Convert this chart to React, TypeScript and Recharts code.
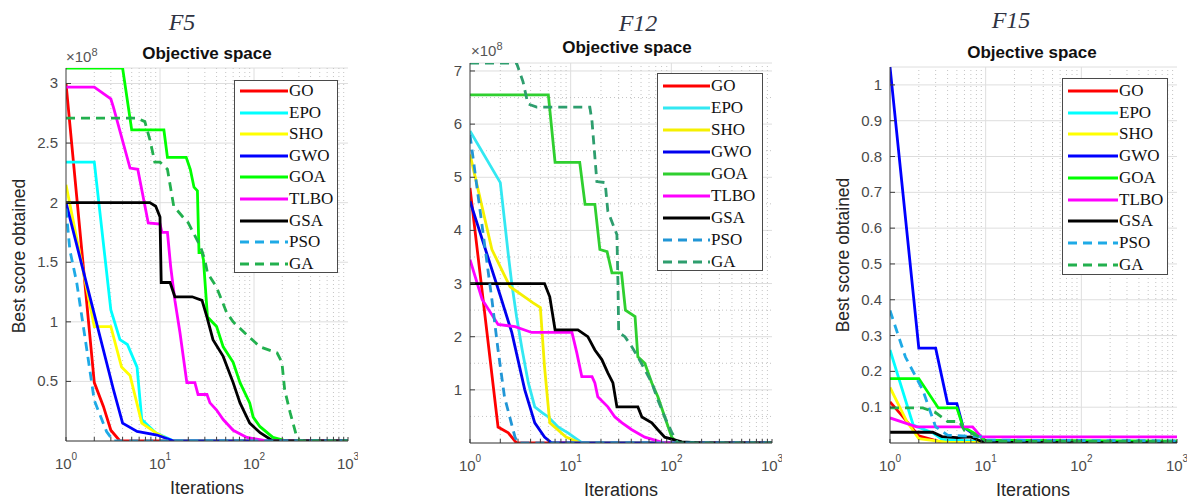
import { LineChart, Line, XAxis, YAxis, CartesianGrid, ReferenceLine } from "recharts";

type Pt = [number, number];

const algos = ["GO", "EPO", "SHO", "GWO", "GOA", "TLBO", "GSA", "PSO", "GA"];

// F5 (score x 1e8)
const f5GO: Pt[] = [[1, 3.0], [2, 0.49], [2.5, 0.29], [3, 0.09], [3.75, 0], [1000, 0]];
const f5EPO: Pt[] = [[1, 2.34], [2, 2.34], [3, 1.1], [3.75, 0.85], [4.5, 0.81], [5.7, 0.62], [6.4, 0.18], [7, 0.15], [9, 0.07], [14, 0], [1000, 0]];
const f5SHO: Pt[] = [[1, 2.15], [2, 0.96], [3, 0.96], [3.9, 0.62], [4.8, 0.55], [6.4, 0.15], [9, 0.07], [13, 0], [1000, 0]];
const f5GWO: Pt[] = [[1, 2.0], [3.2, 0.43], [4, 0.15], [5.7, 0.08], [9.3, 0.05], [14, 0], [1000, 0]];
const f5GOA: Pt[] = [[1, 3.13], [4, 3.13], [5, 2.61], [11, 2.61], [12, 2.38], [19, 2.38], [21, 2.28], [23, 2.13], [25, 2.1], [26, 1.58], [28, 1.58], [29, 1.52], [32, 1.04], [40, 0.96], [47, 0.79], [60, 0.66], [71, 0.49], [90, 0.32], [98, 0.2], [116, 0.12], [159, 0.03], [224, 0], [1000, 0]];
const f5TLBO: Pt[] = [[1, 2.97], [2, 2.97], [3, 2.87], [3.2, 2.8], [4.8, 2.29], [5.8, 2.28], [7.5, 1.83], [10, 1.82], [10.5, 1.75], [12, 1.75], [13, 1.46], [14.4, 1.18], [16.3, 0.91], [19.3, 0.49], [23.5, 0.49], [25.4, 0.39], [31.6, 0.39], [34, 0.32], [40, 0.26], [47, 0.18], [60, 0.09], [84, 0.03], [137, 0], [1000, 0]];
const f5GSA: Pt[] = [[1, 2.0], [7.8, 2.0], [9, 1.97], [10, 1.88], [10.3, 1.33], [12.8, 1.33], [14.4, 1.21], [22, 1.21], [28, 1.18], [31.6, 1.04], [36.6, 0.85], [47, 0.71], [60, 0.49], [71, 0.32], [90, 0.15], [116, 0.07], [159, 0], [1000, 0]];
const f5PSO: Pt[] = [[1, 1.95], [1.1, 1.6], [1.3, 1.33], [1.67, 0.76], [2, 0.34], [2.7, 0.08], [3.2, 0], [1000, 0]];
const f5GA: Pt[] = [[1, 2.71], [5.7, 2.71], [6.9, 2.68], [7.8, 2.53], [8.8, 2.34], [10, 2.34], [12, 2.28], [14, 1.97], [17.5, 1.88], [20, 1.83], [27, 1.63], [30, 1.52], [32, 1.41], [40, 1.29], [51, 1.08], [60, 1.0], [84, 0.89], [116, 0.79], [176, 0.74], [198, 0.66], [212, 0.43], [242, 0.24], [286, 0.03], [309, 0], [1000, 0]];

// F12 (score x 1e8)
const f12GO: Pt[] = [[1, 4.8], [1.9, 0.3], [2.4, 0.19], [2.9, 0], [1000, 0]];
const f12EPO: Pt[] = [[1, 5.87], [2, 4.9], [2.4, 3.55], [2.6, 3.0], [2.9, 2.38], [3.3, 1.75], [3.8, 1.13], [4.4, 0.68], [5.2, 0.57], [6, 0.49], [7.5, 0.3], [9.4, 0.19], [13, 0], [1000, 0]];
const f12SHO: Pt[] = [[1, 5.43], [1.65, 3.64], [2.5, 2.94], [4.2, 2.64], [5, 2.55], [5.5, 1.43], [6.2, 0.38], [9, 0.11], [12.5, 0], [1000, 0]];
const f12GWO: Pt[] = [[1, 4.55], [2, 2.77], [2.6, 2.08], [3.5, 1.0], [4.4, 0.38], [5.5, 0.11], [6.5, 0], [1000, 0]];
const f12GOA: Pt[] = [[1, 6.55], [6, 6.55], [7, 5.28], [12.3, 5.28], [13.9, 4.49], [17.4, 4.49], [19.5, 3.64], [23, 3.6], [25.7, 3.2], [32, 3.2], [35, 2.5], [43.6, 2.38], [46.5, 1.62], [54.5, 1.5], [64, 1.13], [73.5, 0.87], [86, 0.49], [101, 0.11], [116, 0], [1000, 0]];
const f12TLBO: Pt[] = [[1, 3.45], [1.32, 2.7], [1.9, 2.23], [2.8, 2.19], [4.1, 2.08], [10.3, 2.08], [11.5, 1.7], [12.9, 1.25], [16.3, 1.25], [17.4, 1.13], [18.6, 0.87], [23.4, 0.68], [27.5, 0.49], [32.4, 0.38], [40.5, 0.25], [54.5, 0.11], [86, 0], [1000, 0]];
const f12GSA: Pt[] = [[1, 3.0], [5.5, 3.0], [6.2, 2.75], [7, 2.13], [11.8, 2.13], [14.8, 2.0], [17.4, 1.75], [20.4, 1.57], [23.4, 1.32], [26.3, 1.13], [28.8, 0.68], [46.5, 0.68], [51, 0.49], [64, 0.38], [73.5, 0.25], [86, 0.11], [127, 0.02], [200, 0], [1000, 0]];
const f12PSO: Pt[] = [[1, 5.8], [1.65, 2.7], [1.9, 1.75], [2.2, 0.87], [2.8, 0.11], [3, 0], [1000, 0]];
const f12GA: Pt[] = [[1, 7.15], [2.9, 7.15], [3.36, 6.8], [3.76, 6.38], [4.6, 6.32], [15.5, 6.32], [16.3, 6.05], [18.2, 4.92], [22, 4.9], [23.4, 4.36], [28.8, 3.92], [29.5, 3.0], [30, 2.08], [34.6, 2.0], [40.5, 1.81], [46.5, 1.62], [54.5, 1.38], [64, 1.13], [73.5, 0.81], [86, 0.49], [101, 0.2], [116, 0], [1000, 0]];

// F15
const f15GO: Pt[] = [[1, 0.115], [1.3, 0.08], [2, 0.02], [3.5, 0.002], [1000, 0]];
const f15EPO: Pt[] = [[1, 0.26], [1.75, 0.05], [2.8, 0.028], [3.5, 0.01], [10, 0.004], [1000, 0.003]];
const f15SHO: Pt[] = [[1, 0.155], [1.5, 0.06], [2, 0.012], [4, 0.002], [1000, 0]];
const f15GWO: Pt[] = [[1, 1.05], [2, 0.265], [3, 0.265], [4, 0.11], [5, 0.11], [5.8, 0.045], [7.2, 0.028], [9, 0.017], [10, 0.005], [1000, 0.004]];
const f15GOA: Pt[] = [[1, 0.18], [2, 0.18], [3.2, 0.098], [5, 0.098], [5.8, 0.045], [8.3, 0.022], [9.8, 0.008], [1000, 0.005]];
const f15TLBO: Pt[] = [[1, 0.07], [1.9, 0.045], [7.3, 0.045], [9, 0.017], [1000, 0.017]];
const f15GSA: Pt[] = [[1, 0.03], [2.8, 0.03], [3.5, 0.018], [5, 0.015], [7, 0.017], [9.5, 0.002], [1000, 0]];
const f15PSO: Pt[] = [[1, 0.37], [1.45, 0.24], [2.2, 0.148], [3, 0.045], [4, 0.022], [9, 0.017], [10, 0.008], [1000, 0.006]];
const f15GA: Pt[] = [[1, 0.098], [2.2, 0.098], [3, 0.085], [4, 0.06], [5.3, 0.06], [6, 0.035], [9, 0.015], [10, 0.005], [1000, 0.004]];

const f5Series = [f5GO, f5EPO, f5SHO, f5GWO, f5GOA, f5TLBO, f5GSA, f5PSO, f5GA];
const f12Series = [f12GO, f12EPO, f12SHO, f12GWO, f12GOA, f12TLBO, f12GSA, f12PSO, f12GA];
const f15Series = [f15GO, f15EPO, f15SHO, f15GWO, f15GOA, f15TLBO, f15GSA, f15PSO, f15GA];

const f5Ticks = [0.5, 1, 1.5, 2, 2.5, 3];
const f12Ticks = [1, 2, 3, 4, 5, 6, 7];
const f12Minor = [0.5, 1.5, 2.5, 3.5, 4.5, 5.5, 6.5];
const f15Ticks = [0.1, 0.2, 0.3, 0.4, 0.5, 0.6, 0.7, 0.8, 0.9, 1];

const xMajor = [1, 10, 100, 1000];
const xMinor = [2, 3, 4, 5, 6, 7, 8, 9, 20, 30, 40, 50, 60, 70, 80, 90, 200, 300, 400, 500, 600, 700, 800, 900];
const xAll = [...xMajor, ...xMinor].sort((a, b) => a - b);

const colorsA = ["#ff0000", "#00ffff", "#ffff00", "#0000ff", "#00ff00", "#ff00ff", "#000000", "#1eaae6", "#22b04e"];
const colorsB = ["#ff0000", "#33e8f2", "#f5f000", "#0000ee", "#2fcf2f", "#ff00ff", "#000000", "#2196d6", "#2e9e6e"];
const dashed = [false, false, false, false, false, false, false, true, true];

const sans = '"Liberation Sans", Arial, Helvetica, sans-serif';
const serif = '"Liberation Serif", "Times New Roman", serif';
const axisColor = "#3c3c3c";
const tickColor = "#4a4a4a";

const XTick = (props: any) => {
  const { x, y, payload } = props;
  const exp = xMajor.indexOf(payload.value);
  if (exp < 0) return <g />;
  return (
    <text x={x} y={y} textAnchor="middle" fill={tickColor} fontSize={15} fontFamily={sans}>
      <tspan dy={28}>10</tspan>
      <tspan dy={-9} fontSize={10}>{exp}</tspan>
    </text>
  );
};

const YTick = (props: any) => {
  const { x, y, payload } = props;
  return (
    <text x={x} y={y} dy={5} textAnchor="end" fill={tickColor} fontSize={15} fontFamily={sans}>
      {payload.value}
    </text>
  );
};

interface PanelProps {
  plotL: number;
  plotR: number;
  plotT: number;
  plotB: number;
  yMax: number;
  yTicks: number[];
  yMinor?: number[];
  series: Pt[][];
  colors: string[];
}

function Panel({ plotL, plotR, plotT, plotB, yMax, yTicks, yMinor = [], series, colors }: PanelProps) {
  const axisW = 50;
  const left = plotL - axisW;
  const width = plotR - plotL + axisW + 10;
  return (
    <div style={{ position: "absolute", left, top: 0 }}>
      <LineChart width={width} height={502} margin={{ top: plotT, right: 10, bottom: 502 - plotB - 30, left: 0 }}>
        <CartesianGrid vertical={false} stroke="#dedede" />
        {xMinor.map((v) => (
          <ReferenceLine key={"vx" + v} x={v} stroke="#c4c4c4" strokeDasharray="1 3" />
        ))}
        {[10, 100].map((v) => (
          <ReferenceLine key={"vM" + v} x={v} stroke="#dedede" />
        ))}
        {yMinor.map((v) => (
          <ReferenceLine key={"hy" + v} y={v} stroke="#c4c4c4" strokeDasharray="1 3" />
        ))}
        <XAxis
          dataKey="x"
          type="number"
          scale="log"
          domain={[1, 1000]}
          allowDataOverflow
          ticks={xAll}
          interval={0}
          height={30}
          tickSize={-4}
          tickMargin={4}
          tick={<XTick />}
          stroke={axisColor}
        />
        <XAxis
          xAxisId="top"
          orientation="top"
          dataKey="x"
          type="number"
          scale="log"
          domain={[1, 1000]}
          allowDataOverflow
          ticks={xAll}
          interval={0}
          height={0}
          tickSize={-4}
          tick={false}
          stroke={axisColor}
        />
        <YAxis
          type="number"
          domain={[0, yMax]}
          allowDataOverflow
          ticks={yTicks}
          interval={0}
          width={axisW}
          tickSize={-5}
          tickMargin={13}
          tick={<YTick />}
          stroke={axisColor}
        />
        <YAxis
          yAxisId="right"
          orientation="right"
          type="number"
          domain={[0, yMax]}
          allowDataOverflow
          ticks={yTicks}
          interval={0}
          width={0}
          tickSize={-5}
          tick={false}
          stroke={axisColor}
        />
        {series.map((pts, i) => (
          <Line
            key={algos[i]}
            data={pts.map(([x, y]) => ({ x, y }))}
            dataKey="y"
            type="linear"
            stroke={colors[i]}
            strokeWidth={2.8}
            strokeDasharray={dashed[i] ? "9 6" : undefined}
            dot={false}
            activeDot={false}
            isAnimationActive={false}
          />
        ))}
      </LineChart>
    </div>
  );
}

function LegendBox({ left, top, width, height, first, step, lineW, colors }: any) {
  return (
    <div
      style={{
        position: "absolute",
        left,
        top,
        width,
        height,
        border: "1px solid #4a4a4a",
        background: "#fff",
        boxSizing: "border-box",
      }}
    >
      {algos.map((a, i) => (
        <div
          key={a}
          style={{
            position: "absolute",
            left: 5,
            top: first + i * step - 10,
            height: 20,
            display: "flex",
            alignItems: "center",
            whiteSpace: "nowrap",
          }}
        >
          <svg width={lineW} height={6} style={{ display: "block" }}>
            <line x1={0} y1={3} x2={lineW} y2={3} stroke={colors[i]} strokeWidth={3} strokeDasharray={dashed[i] ? "9 6" : undefined} />
          </svg>
          <span style={{ fontFamily: serif, fontSize: 17, lineHeight: "20px", color: "#111", marginLeft: 1 }}>{a}</span>
        </div>
      ))}
    </div>
  );
}

const abs = (extra: any) => ({ position: "absolute" as const, whiteSpace: "nowrap" as const, ...extra });

function Title({ text, cx, cy }: { text: string; cx: number; cy: number }) {
  return (
    <div style={abs({ left: cx, top: cy, transform: "translate(-50%,-50%)", fontFamily: serif, fontStyle: "italic", fontSize: 24, color: "#2f3342" })}>
      {text}
    </div>
  );
}

function SubTitle({ cx, cy }: { cx: number; cy: number }) {
  return (
    <div style={abs({ left: cx, top: cy, transform: "translate(-50%,-50%)", fontFamily: sans, fontWeight: "bold", fontSize: 17, color: "#111" })}>
      Objective space
    </div>
  );
}

function XLabel({ cx, cy }: { cx: number; cy: number }) {
  return (
    <div style={abs({ left: cx, top: cy, transform: "translate(-50%,-50%)", fontFamily: sans, fontSize: 18, color: "#262626" })}>
      Iterations
    </div>
  );
}

function YLabel({ cx, cy }: { cx: number; cy: number }) {
  return (
    <div style={abs({ left: cx, top: cy, transform: "translate(-50%,-50%) rotate(-90deg)", fontFamily: sans, fontSize: 17.5, color: "#262626" })}>
      Best score obtained
    </div>
  );
}

function Exponent({ left, top }: { left: number; top: number }) {
  return (
    <div style={abs({ left, top, fontFamily: sans, fontSize: 15, lineHeight: "18px", color: "#555" })}>
      ×10<sup style={{ fontSize: 11, lineHeight: 0 }}>8</sup>
    </div>
  );
}

export default function App() {
  return (
    <div style={{ position: "absolute", left: 0, top: 0, width: 1193, height: 502, background: "#fff", overflow: "hidden" }}>
      <Panel plotL={66} plotR={348} plotT={68} plotB={441} yMax={3.13} yTicks={f5Ticks} series={f5Series} colors={colorsA} />
      <Panel plotL={470} plotR={772} plotT={63} plotB={443} yMax={7.15} yTicks={f12Ticks} yMinor={f12Minor} series={f12Series} colors={colorsB} />
      <Panel plotL={890} plotR={1177} plotT={67} plotB={443} yMax={1.05} yTicks={f15Ticks} series={f15Series} colors={colorsA} />

      <LegendBox left={234} top={80} width={104} height={193} first={10} step={21.6} lineW={48} colors={colorsA} />
      <LegendBox left={657} top={73} width={106} height={198} first={12} step={22} lineW={47} colors={colorsB} />
      <LegendBox left={1062} top={78} width={106} height={197} first={12} step={21.7} lineW={50} colors={colorsA} />

      <Title text="F5" cx={182} cy={22} />
      <Title text="F12" cx={638} cy={23} />
      <Title text="F15" cx={1011} cy={20} />

      <SubTitle cx={207} cy={54} />
      <SubTitle cx={627} cy={48} />
      <SubTitle cx={1032} cy={53} />

      <Exponent left={66} top={48} />
      <Exponent left={471} top={42} />

      <YLabel cx={19} cy={256} />
      <YLabel cx={843} cy={255} />

      <XLabel cx={207} cy={488} />
      <XLabel cx={621} cy={490} />
      <XLabel cx={1033} cy={490} />
    </div>
  );
}
